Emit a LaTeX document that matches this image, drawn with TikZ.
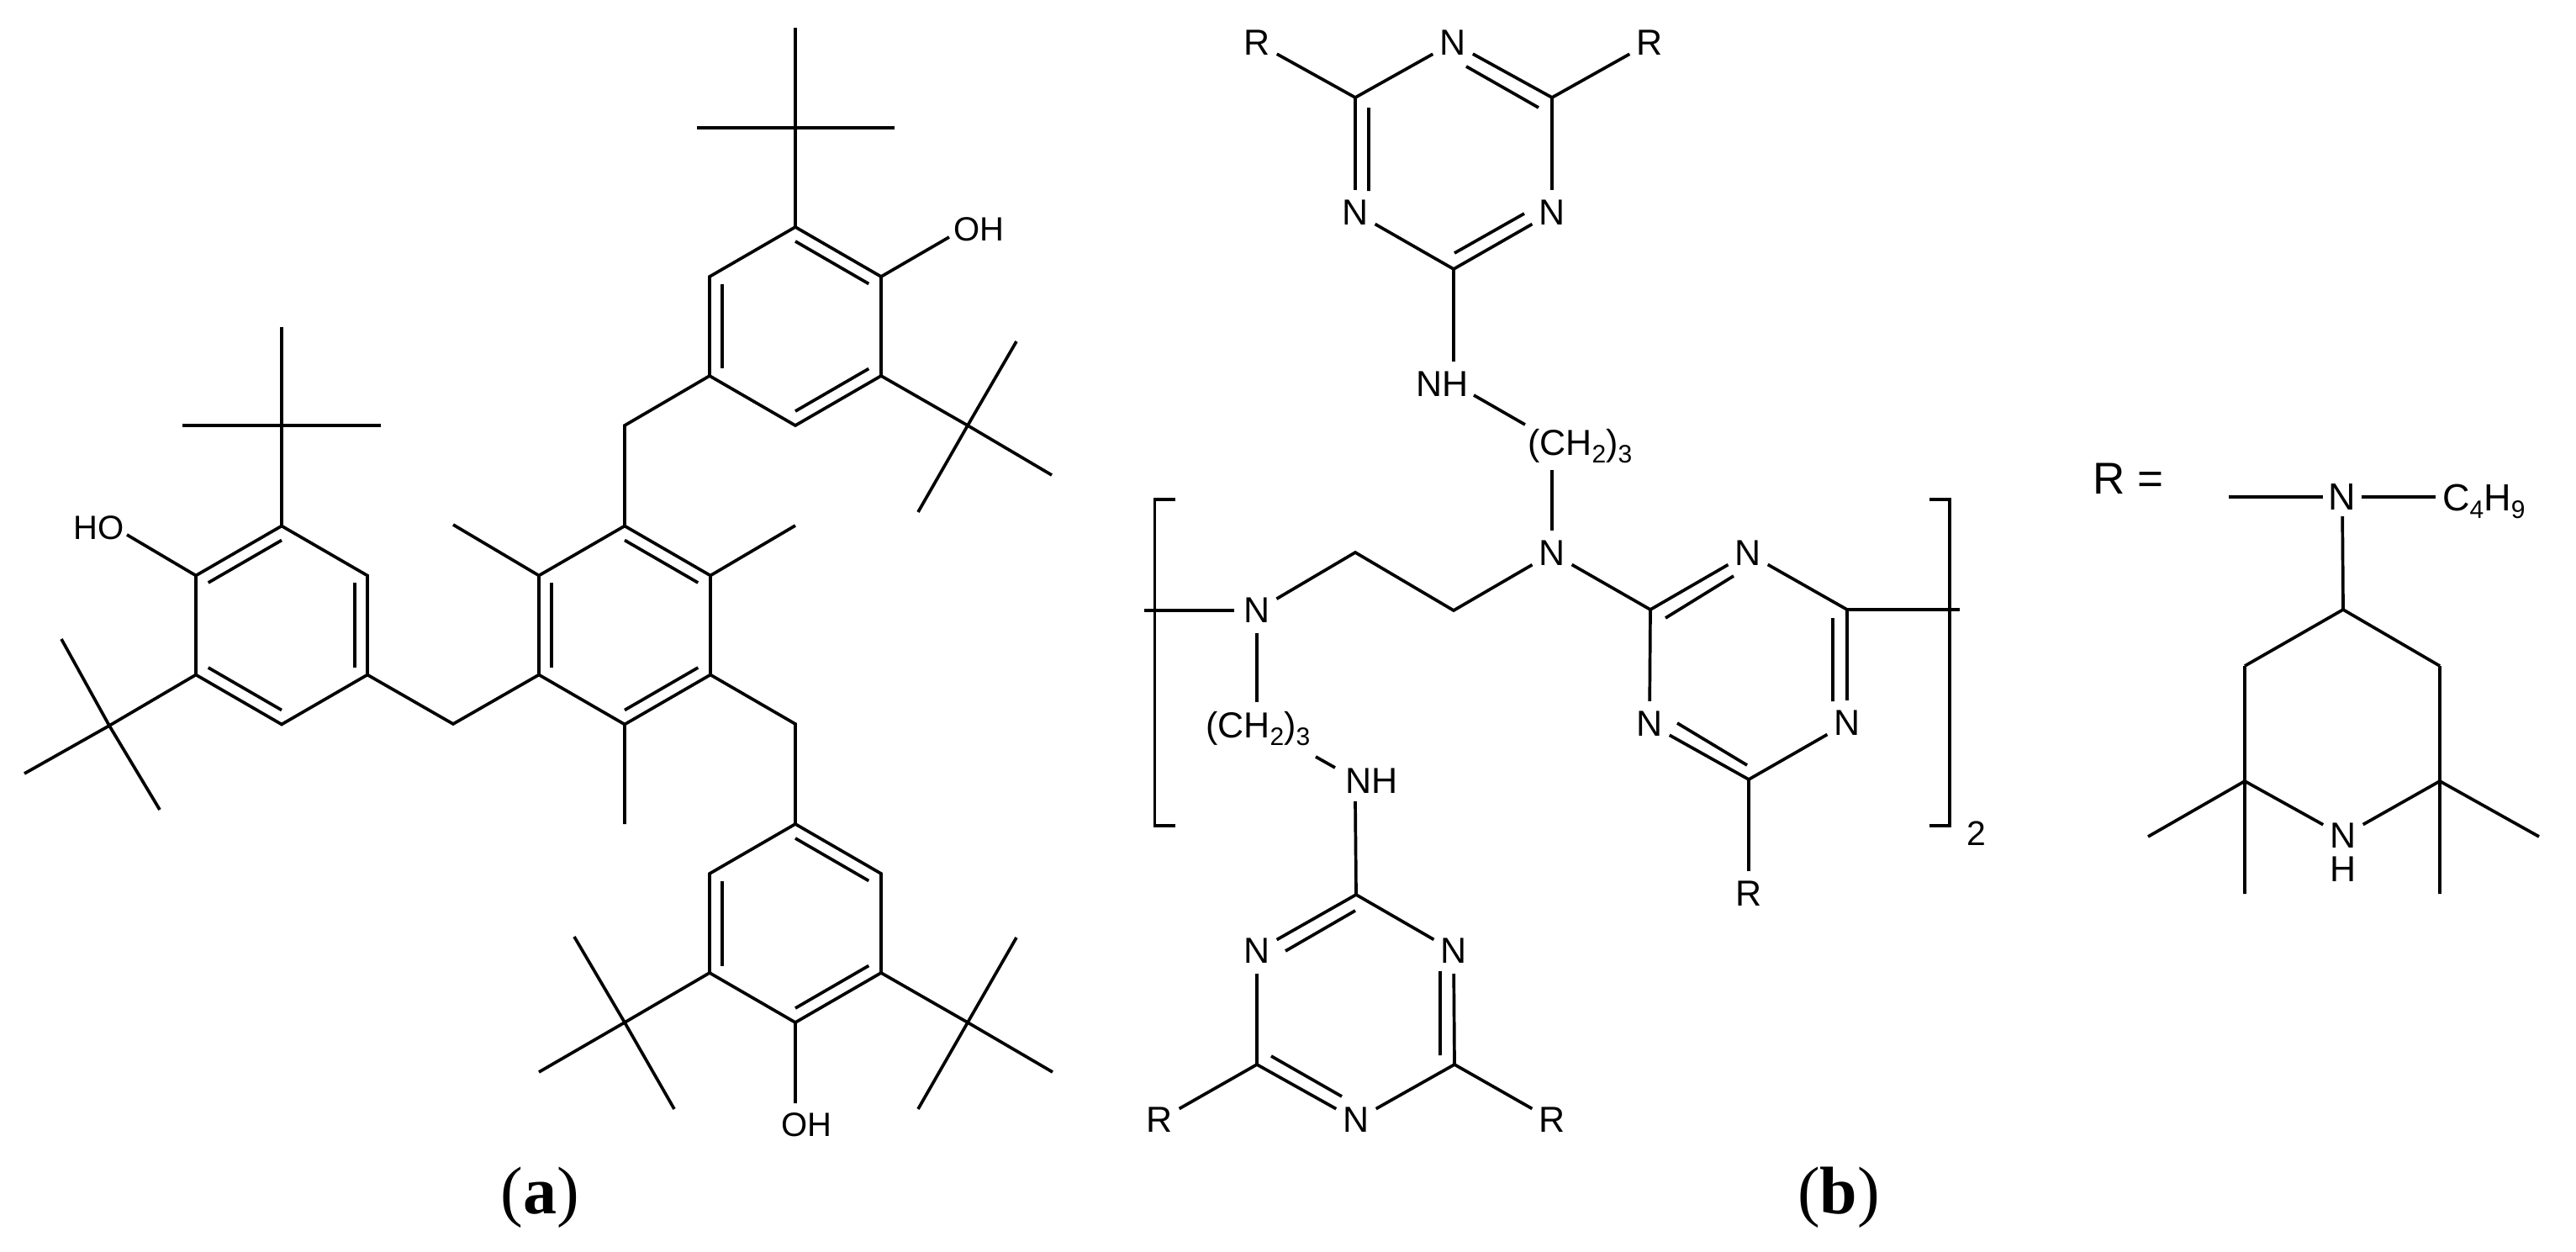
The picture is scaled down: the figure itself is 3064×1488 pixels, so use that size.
\documentclass[tikz,border=0pt]{standalone}
\usepackage{fontspec}
\setmainfont{Liberation Sans}
\newfontfamily\capfont{Liberation Serif}
\usetikzlibrary{calc}
\newcommand\subs[1]{\raisebox{-9pt}{\fontsize{30}{30}\selectfont #1}}
% hexagon with vertices a (top), b, c, d (bottom), e, f, clockwise
\newcommand\hexring[3]{%
  \coordinate (#1) at (#2,#3);
  \coordinate (#1a) at ($(#1)+(0,-118)$);
  \coordinate (#1b) at ($(#1)+(102,-59)$);
  \coordinate (#1c) at ($(#1)+(102,59)$);
  \coordinate (#1d) at ($(#1)+(0,118)$);
  \coordinate (#1e) at ($(#1)+(-102,59)$);
  \coordinate (#1f) at ($(#1)+(-102,-59)$);
  \draw[bond] (#1a)--(#1b)--(#1c)--(#1d)--(#1e)--(#1f)--cycle;}
\newcommand\inbond[3]{\draw[bond] ($(#1)!17pt!(#3)$) -- ($(#2)!17pt!(#3)$);}
% t-butyl: centre, three ends and the bond to its ring
\newcommand\tbu[9]{%
  \coordinate (#1) at (#2,#3);
  \coordinate (#1x) at (#4,#5);
  \coordinate (#1y) at (#6,#7);
  \coordinate (#1z) at (#8,#9);
  \draw[bond] (#1)--(#1x) (#1)--(#1y) (#1)--(#1z);}
\tikzset{
  bond/.style={line width=3.7pt,line join=miter,black},
  atomlabel/.style={circle,inner sep=0pt,minimum size=54pt,text=black,font=\fontsize{43}{50}\selectfont},
  grouplabel/.style={inner sep=0pt,anchor=base west,text=black,font=\fontsize{43}{50}\selectfont},
  hydroxyl/.style={inner sep=0pt,anchor=base west,text=black,font=\fontsize{40}{50}\selectfont},
  caption/.style={inner sep=0pt,text=black,font=\capfont\fontsize{80}{90}\selectfont},
}
\begin{document}
\begin{tikzpicture}[x=1pt,y=-1pt]
\useasboundingbox (0,0) rectangle (3064,1488);
% ---------- (a) ----------
\hexring{A}{335}{743.5}
\hexring{B}{743}{743.5}
\hexring{C}{946}{388}
\hexring{D}{946}{1098}
\inbond{Aa}{Af}{A}\inbond{Ab}{Ac}{A}\inbond{Ae}{Ad}{A}
\inbond{Bf}{Be}{B}\inbond{Ba}{Bb}{B}\inbond{Bc}{Bd}{B}
\inbond{Ca}{Cb}{C}\inbond{Cf}{Ce}{C}\inbond{Cc}{Cd}{C}
\inbond{Da}{Db}{D}\inbond{Df}{De}{D}\inbond{Dc}{Dd}{D}
% methylene bridges and methyls
\coordinate (m1) at (539,861);
\coordinate (m2) at (743,506);
\coordinate (m3) at (946,861);
\draw[bond] (Ac)--(m1)--(Be);
\draw[bond] (Ba)--(m2)--(Ce);
\draw[bond] (Bc)--(m3)--(Da);
\coordinate (me1) at (539,624);
\coordinate (me2) at (946,625);
\coordinate (me3) at (743,980);
\draw[bond] (Bf)--(me1) (Bb)--(me2) (Bd)--(me3);
% t-butyl groups
\tbu{t1}{335}{506}{335}{389}{217}{506}{453}{506}
\draw[bond] (Aa)--(t1);
\tbu{t2}{130}{863}{73}{760}{29}{920}{190}{963}
\draw[bond] (Ae)--(t2);
\tbu{t3}{946}{152}{946}{33}{829}{152}{1064}{152}
\draw[bond] (Ca)--(t3);
\tbu{t4}{1151}{506}{1209}{406}{1251}{565}{1092}{609}
\draw[bond] (Cc)--(t4);
\tbu{t5}{1151}{1216}{1209}{1115}{1252}{1275}{1092}{1319}
\draw[bond] (Dc)--(t5);
\tbu{t6}{743}{1216}{683}{1114}{641}{1275}{802}{1319}
\draw[bond] (De)--(t6);
% hydroxyls
\node[hydroxyl] (oh1) at (87,641) {HO};
\node[hydroxyl] (oh2) at (1134,286) {OH};
\node[hydroxyl] (oh3) at (929,1351) {OH};
\coordinate (oh1e) at (151,636);
\coordinate (oh2e) at (1129,282);
\coordinate (oh3e) at (946,1312);
\draw[bond] (Af)--(oh1e) (Cb)--(oh2e) (Dd)--(oh3e);
\node[caption] (capa) at (642,1424) {(\textbf{a})};
% ---------- (b) top triazine ----------
\node[atomlabel] (rT1) at (1495,51) {R};
\node[atomlabel] (rT2) at (1962,51) {R};
\node[atomlabel] (nT1) at (1728,51) {N};
\node[atomlabel] (nT2) at (1612,253) {N};
\node[atomlabel] (nT3) at (1846,253) {N};
\coordinate (T1) at (1612,116);
\coordinate (T2) at (1846,116);
\coordinate (T3) at (1729,320);
\draw[bond] (T1)--(rT1) (T1)--(nT1) (T2)--(rT2) (T2)--(nT3) (nT2)--(T3);
\draw[bond] (nT1)--(T2) (T1)--(nT2) (T3)--(nT3);
\coordinate (i1) at (1744,79); \coordinate (i2) at (1830,128);
\coordinate (i3) at (1628,128); \coordinate (i4) at (1628,227);
\coordinate (i5) at (1730,301); \coordinate (i6) at (1813,254);
\draw[bond] (i1)--(i2) (i3)--(i4) (i5)--(i6);
% linker top
\node[grouplabel] (nhT) at (1684,471) {NH};
\coordinate (nhTa) at (1729,430);
\draw[bond] (T3)--(nhTa);
\node[grouplabel] (chT) at (1817,541) {(CH\subs{2})\subs{3}};
\coordinate (l1) at (1753,470); \coordinate (l2) at (1814,505);
\draw[bond] (l1)--(l2);
\node[atomlabel] (nC) at (1846,658) {N};
\coordinate (l3) at (1846,559);
\draw[bond] (l3)--(nC);
% backbone
\node[atomlabel] (nL) at (1495,726) {N};
\coordinate (e1) at (1612,657);
\coordinate (e2) at (1729,726);
\draw[bond] (nL)--(e1)--(e2)--(nC);
\coordinate (wl) at (1361,726);
\draw[bond] (wl)--(nL);
\coordinate (bl1) at (1398,594); \coordinate (bl2) at (1373.5,594);
\coordinate (bl3) at (1373.5,982); \coordinate (bl4) at (1398,982);
\draw[bond] (bl1)--(bl2)--(bl3)--(bl4);
% lower linker
\coordinate (l4) at (1495,835);
\draw[bond] (nL)--(l4);
\node[grouplabel] (chL) at (1434,877) {(CH\subs{2})\subs{3}};
\coordinate (l5) at (1565,900); \coordinate (l6) at (1588,913);
\draw[bond] (l5)--(l6);
\node[grouplabel] (nhL) at (1600,943) {NH};
\coordinate (l7) at (1612,953);
% lower triazine
\coordinate (L1) at (1613,1064);
\coordinate (L2) at (1495,1266);
\coordinate (L3) at (1730,1266);
\node[atomlabel] (nL1) at (1495,1131) {N};
\node[atomlabel] (nL2) at (1729,1131) {N};
\node[atomlabel] (nL3) at (1613,1332) {N};
\node[atomlabel] (rL1) at (1379,1332) {R};
\node[atomlabel] (rL2) at (1846,1332) {R};
\draw[bond] (l7)--(L1) (nL1)--(L1) (L1)--(nL2) (nL1)--(L2) (nL2)--(L3)
  (L2)--(rL1) (L2)--(nL3) (nL3)--(L3) (L3)--(rL2);
\coordinate (i7) at (1529,1131); \coordinate (i8) at (1612,1083);
\coordinate (i9) at (1713,1155); \coordinate (i10) at (1713,1255);
\coordinate (i11) at (1512,1256); \coordinate (i12) at (1596,1304);
\draw[bond] (i7)--(i8) (i9)--(i10) (i11)--(i12);
% right triazine
\coordinate (M1) at (1963,725);
\coordinate (M2) at (2197,725);
\coordinate (M3) at (2080,927);
\node[atomlabel] (nM1) at (2079,658) {N};
\node[atomlabel] (nM2) at (2197,860) {N};
\node[atomlabel] (nM3) at (1962,861) {N};
\node[atomlabel] (rM) at (2080,1063) {R};
\draw[bond] (nC)--(M1) (M1)--(nM1) (nM1)--(M2) (M2)--(nM2) (nM2)--(M3)
  (M3)--(nM3) (nM3)--(M1) (M3)--(rM);
\coordinate (i13) at (1981,735); \coordinate (i14) at (2062,685);
\coordinate (i15) at (2180,735); \coordinate (i16) at (2180,834);
\coordinate (i17) at (2078,910); \coordinate (i18) at (1995,860);
\draw[bond] (i13)--(i14) (i15)--(i16) (i17)--(i18);
\coordinate (er) at (2331,725);
\draw[bond] (M2)--(er);
\coordinate (br1) at (2295,594); \coordinate (br2) at (2319,594);
\coordinate (br3) at (2319,982); \coordinate (br4) at (2295,982);
\draw[bond] (br1)--(br2)--(br3)--(br4);
\node[inner sep=0pt,text=black,font=\fontsize{41}{50}\selectfont] (two) at (2351,991) {2};
\node[caption] (capb) at (2187,1424) {(\textbf{b})};
% ---------- R = ----------
\node[inner sep=0pt,anchor=base west,text=black,font=\fontsize{53}{60}\selectfont] (req) at (2489,587) {R =};
\node[atomlabel,minimum size=46pt,font=\fontsize{45}{50}\selectfont] (nP) at (2786,591) {N};
\coordinate (p0) at (2651,591);
\node[grouplabel,font=\fontsize{45}{50}\selectfont] (cb) at (2905,607) {C\subs{4}H\subs{9}};
\coordinate (pc) at (2897,591);
\draw[bond] (p0)--(nP) (nP)--(pc);
\coordinate (P1) at (2787,725);
\coordinate (P2) at (2670,792);
\coordinate (P3) at (2902,792);
\coordinate (P4) at (2670,929);
\coordinate (P5) at (2902,929);
\node[atomlabel] (nP2) at (2787,994) {N};
\node[inner sep=0pt,text=black,font=\fontsize{43}{50}\selectfont] (hP) at (2787,1034) {H};
\draw[bond] (nP)--(P1) (P2)--(P1)--(P3) (P2)--(P4) (P3)--(P5) (P4)--(nP2) (P5)--(nP2);
\coordinate (q1) at (2555,995); \coordinate (q2) at (2670,1063);
\coordinate (q3) at (3020,995); \coordinate (q4) at (2902,1063);
\draw[bond] (P4)--(q1) (P4)--(q2) (P5)--(q3) (P5)--(q4);
\end{tikzpicture}
\end{document}
